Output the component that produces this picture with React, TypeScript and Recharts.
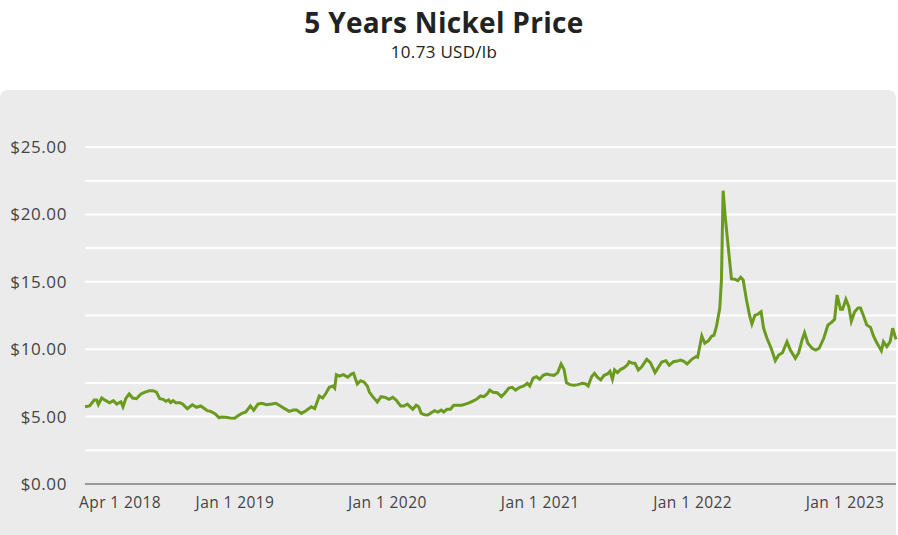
import { LineChart, Line, XAxis, YAxis, CartesianGrid } from "recharts";

// weekly-ish nickel price, x = days since 1 Jan 2018
const days = [
  6, 17, 28, 34, 38, 46, 56, 65, 74, 82,
  92, 97, 104, 112, 120, 129, 140, 150, 160, 169,
  177, 185, 193, 200, 206, 211, 217, 223, 233, 240,
  251, 263, 273, 283, 291, 299, 307, 318, 327, 332,
  342, 354, 364, 374, 382, 391, 402, 410, 420, 429,
  441, 453, 463, 474, 484, 495, 505, 513, 524, 535,
  548, 556, 567, 575, 583, 591, 600, 604, 608, 615,
  625, 635, 644, 649, 658, 666, 674, 682, 687, 695,
  706, 715, 725, 734, 743, 751, 762, 770, 778, 786,
  791, 799, 805, 811, 819, 827, 835, 843, 851, 859,
  865, 873, 881, 889, 899, 908, 917, 927, 937, 945,
  953, 961, 969, 975, 983, 993, 1003, 1011, 1021, 1029,
  1037, 1047, 1057, 1065, 1071, 1079, 1087, 1095, 1103, 1111,
  1119, 1129, 1138, 1146, 1153, 1159, 1167, 1177, 1186, 1197,
  1205, 1211, 1219, 1226, 1233, 1241, 1249, 1257, 1263, 1269,
  1274, 1281, 1289, 1296, 1305, 1309, 1317, 1323, 1331, 1339,
  1351, 1360, 1371, 1379, 1387, 1397, 1405, 1415, 1424, 1432,
  1440, 1448, 1459, 1469, 1473, 1483, 1490, 1499, 1507, 1512,
  1518, 1526, 1530, 1534, 1539, 1547, 1554, 1562, 1569, 1576,
  1582, 1590, 1598, 1603, 1610, 1618, 1625, 1631, 1639, 1649,
  1659, 1667, 1676, 1687, 1695, 1707, 1715, 1723, 1729, 1737,
  1747, 1756, 1764, 1775, 1785, 1793, 1801, 1807, 1815, 1820,
  1828, 1835, 1841, 1849, 1857, 1863, 1871, 1878, 1887, 1894,
  1902, 1913, 1918, 1926, 1934, 1940, 1948,
];

const prices = [
  5.73, 5.79, 6.23, 6.23, 5.9, 6.38, 6.18, 6.03, 6.18, 5.93,
  6.1, 5.73, 6.36, 6.68, 6.38, 6.33, 6.68, 6.82, 6.92, 6.92,
  6.82, 6.33, 6.28, 6.13, 6.23, 6.03, 6.18, 6.03, 6.03, 5.93,
  5.59, 5.88, 5.69, 5.79, 5.62, 5.44, 5.39, 5.19, 4.92, 4.97,
  4.95, 4.9, 4.88, 5.1, 5.24, 5.34, 5.79, 5.47, 5.93, 5.99,
  5.88, 5.93, 5.99, 5.79, 5.59, 5.39, 5.49, 5.49, 5.24, 5.44,
  5.73, 5.59, 6.53, 6.38, 6.73, 7.17, 7.27, 7.12, 8.11, 8.01,
  8.11, 7.92, 8.16, 8.22, 7.42, 7.66, 7.57, 7.27, 6.82, 6.48,
  6.08, 6.48, 6.43, 6.28, 6.43, 6.23, 5.79, 5.79, 5.93, 5.69,
  5.54, 5.84, 5.73, 5.24, 5.14, 5.12, 5.29, 5.44, 5.34, 5.49,
  5.34, 5.54, 5.54, 5.84, 5.84, 5.84, 5.93, 6.03, 6.18, 6.33,
  6.53, 6.48, 6.68, 6.97, 6.8, 6.77, 6.48, 6.73, 7.12, 7.17,
  6.97, 7.17, 7.27, 7.47, 7.27, 7.86, 7.96, 7.77, 8.06, 8.16,
  8.11, 8.06, 8.26, 8.9, 8.51, 7.51, 7.37, 7.32, 7.37, 7.47,
  7.42, 7.27, 7.96, 8.21, 7.92, 7.72, 8.06, 8.16, 8.36, 7.77,
  8.46, 8.26, 8.51, 8.61, 8.84, 9.07, 8.95, 8.95, 8.46, 8.7,
  9.25, 9.0, 8.26, 8.66, 9.05, 9.15, 8.8, 9.07, 9.12, 9.2,
  9.1, 8.9, 9.25, 9.45, 9.4, 10.98, 10.44, 10.63, 10.98, 11.03,
  11.67, 13.03, 15.13, 21.76, 19.83, 17.36, 15.21, 15.19, 15.08, 15.33,
  15.13, 13.65, 12.41, 11.87, 12.51, 12.61, 12.78, 11.55, 10.81, 10.07,
  9.15, 9.57, 9.74, 10.56, 9.94, 9.32, 9.74, 10.68, 11.22, 10.44,
  10.07, 9.94, 10.07, 10.81, 11.8, 11.97, 12.22, 14.02, 12.96, 12.96,
  13.7, 13.15, 12.07, 12.78, 13.06, 13.06, 12.41, 11.8, 11.62, 10.98,
  10.48, 9.89, 10.56, 10.19, 10.56, 11.55, 10.73,
];

const tickDates = ["2018-04-01", "2019-01-01", "2020-01-01", "2021-01-01", "2022-01-01", "2023-01-01"];
const tickLabels = ["Apr 1 2018", "Jan 1 2019", "Jan 1 2020", "Jan 1 2021", "Jan 1 2022", "Jan 1 2023"];
const yTicks = [0, 2.5, 5, 7.5, 10, 12.5, 15, 17.5, 20, 22.5, 25];

const START = Date.UTC(2018, 0, 1);
const DAY = 86400000;

const data = days.map((d, i) => ({ t: START + d * DAY, price: prices[i] }));
const xTicks = tickDates.map((s) => Date.parse(s));

const font = "'Open Sans', sans-serif";

export default function App() {
  return (
    <div style={{ position: "absolute", left: 0, top: 0, width: 898, height: 535, background: "#fff", fontFamily: font, overflow: "hidden" }}>
      <div style={{ position: "absolute", top: 6, left: 0, width: 888, textAlign: "center", fontSize: 28, lineHeight: "32px", fontWeight: 700, color: "#222", letterSpacing: 0.3 }}>
        5 Years Nickel Price
      </div>
      <div style={{ position: "absolute", top: 41, left: 0, width: 888, textAlign: "center", fontSize: 17, lineHeight: "22px", color: "#222", letterSpacing: 0.3 }}>
        10.73 USD/lb
      </div>
      <div style={{ position: "absolute", top: 90, left: 0, width: 896, height: 460, background: "#ebebeb", borderRadius: 8 }}>
        <LineChart width={898} height={445} data={data} margin={{ top: 57, right: 2, bottom: 21, left: 0 }}>
          <CartesianGrid vertical={false} stroke="#ffffff" strokeWidth={2} />
          <XAxis
            dataKey="t"
            type="number"
            domain={["dataMin", "dataMax"]}
            ticks={xTicks}
            interval={0}
            tickFormatter={(v) => tickLabels[xTicks.indexOf(v)] ?? ""}
            tickLine={false}
            axisLine={{ stroke: "#333", strokeWidth: 1 }}
            tick={{ fill: "#444", fontSize: 15.5, fontFamily: font, letterSpacing: 0.4 }}
            tickMargin={7}
            height={30}
          />
          <YAxis
            type="number"
            domain={[0, 25]}
            ticks={yTicks}
            interval={0}
            tickFormatter={(v) => (v % 5 === 0 ? "$" + v.toFixed(2) : "")}
            tickLine={false}
            axisLine={false}
            tick={{ fill: "#444", fontSize: 17, fontFamily: font, letterSpacing: 0.6 }}
            tickMargin={12}
            width={85}
          />
          <Line type="linear" dataKey="price" stroke="#6a9a1e" strokeWidth={3} dot={false} isAnimationActive={false} />
        </LineChart>
      </div>
    </div>
  );
}
